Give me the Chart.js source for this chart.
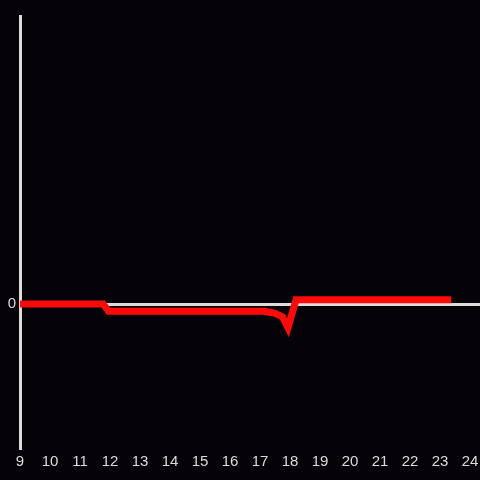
<!DOCTYPE html>
<html>
<head>
<meta charset="utf-8">
<script src="https://cdn.jsdelivr.net/npm/chart.js@4/dist/chart.umd.min.js"></script>
<style>
  html, body { margin: 0; padding: 0; background: #050308; }
  #wrap { width: 480px; height: 480px; }
</style>
</head>
<body>
<div id="wrap"><canvas id="chart"></canvas></div>
<script>
// values
var hours = [9, 11.77, 11.95, 17.15, 17.5, 17.75, 17.93, 18.2, 23.37];
var values = [0, 0, -0.05, -0.05, -0.065, -0.09, -0.165, 0.03, 0.03];
var xTicks = [9, 10, 11, 12, 13, 14, 15, 16, 17, 18, 19, 20, 21, 22, 23, 24];
var yTicks = [0];

var axisColour = '#dcdcdc';
var points = [];
for (var i = 0; i < hours.length; i++) {
    points.push({ x: hours[i], y: values[i] });
}

var config = {
    type: 'line',
    data: {
        datasets: [{
            data: points,
            borderColor: '#ff0a0a',
            borderWidth: 7,
            pointRadius: 0,
            tension: 0,
            fill: false
        }]
    },
    options: {
        responsive: true,
        maintainAspectRatio: false,
        animation: false,
        layout: { padding: { top: 16, right: 0, left: 0, bottom: 0 } },
        plugins: {
            legend: { display: false },
            tooltip: { enabled: false }
        },
        scales: {
            x: {
                type: 'linear',
                min: 9,
                max: 24.33,
                afterBuildTicks: function (axis) {
                    axis.ticks = xTicks.map(function (v) { return { value: v }; });
                },
                afterFit: function (axis) {
                    axis.height = 32;
                    axis.paddingRight = 0;
                    axis.paddingLeft = 0;
                },
                grid: { display: false, drawTicks: false },
                border: { display: false },
                ticks: {
                    color: axisColour,
                    padding: 5,
                    maxRotation: 0,
                    autoSkip: false,
                    font: { family: 'Liberation Sans', size: 15 }
                }
            },
            y: {
                min: -1,
                max: 2,
                afterBuildTicks: function (axis) {
                    axis.ticks = yTicks.map(function (v) { return { value: v }; });
                },
                afterFit: function (axis) { axis.width = 20; },
                grid: { color: axisColour, lineWidth: 3, drawTicks: false },
                border: { display: true, color: axisColour, width: 3 },
                ticks: {
                    color: axisColour,
                    padding: 4,
                    font: { family: 'Liberation Sans', size: 15 }
                }
            }
        }
    }
};

new Chart(document.getElementById('chart'), config);
</script>
</body>
</html>
